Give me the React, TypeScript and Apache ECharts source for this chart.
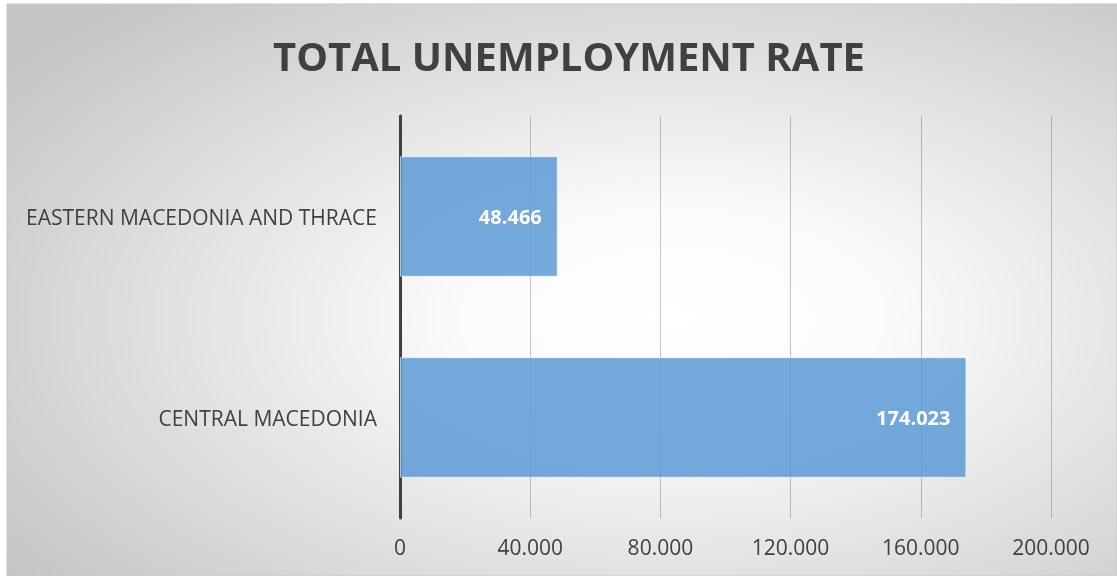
import React, { useEffect, useRef } from "react";
import * as echarts from "echarts";

const categories = ["EASTERN MACEDONIA AND THRACE", "CENTRAL MACEDONIA"];
const values = [48466, 174023];
const titleText = "TOTAL UNEMPLOYMENT RATE";

const fmt = (v: number) =>
  String(Math.round(v)).replace(/\B(?=(\d{3})+(?!\d))/g, ".");

export default function App() {
  const ref = useRef<HTMLDivElement>(null);
  useEffect(() => {
    if (!ref.current) return;
    const chart = echarts.init(ref.current, undefined, { renderer: "svg" });
    chart.setOption({
      animation: false,
      graphic: [
        {
          type: "rect",
          z: -10,
          silent: true,
          shape: { x: 7, y: 4, width: 1110, height: 572 },
          style: {
            fill: new echarts.graphic.RadialGradient(0.6, 0.55, 0.75, [
              { offset: 0, color: "#ffffff" },
              { offset: 0.25, color: "#fbfbfb" },
              { offset: 1, color: "#c4c4c4" },
            ]),
            stroke: "#c8c8c8",
            lineWidth: 1,
          },
        },
      ],
      title: {
        text: titleText,
        left: 564,
        textAlign: "center",
        top: 30,
        textStyle: {
          fontFamily: "Open Sans",
          fontSize: 40,
          fontWeight: "bold",
          color: "#404040",
        },
      },
      grid: { left: 400, right: 66, top: 116, bottom: 58, containLabel: false },
      xAxis: {
        type: "value",
        min: 0,
        max: 200000,
        interval: 40000,
        axisLine: { show: false },
        axisTick: { show: false },
        splitLine: { show: true, lineStyle: { color: "rgba(0,0,0,0.22)", width: 1 } },
        axisLabel: {
          formatter: (v: number) => fmt(v),
          color: "#404040",
          fontFamily: "Open Sans",
          fontSize: 21,
          margin: 18,
        },
      },
      yAxis: {
        type: "category",
        data: categories,
        inverse: true,
        axisTick: { show: false },
        axisLine: { show: true, lineStyle: { color: "#404040", width: 3 } },
        axisLabel: {
          color: "#404040",
          fontFamily: "Open Sans",
          fontSize: 21,
          margin: 23,
        },
      },
      series: [
        {
          type: "bar",
          data: values,
          barCategoryGap: "40%",
          z: 1,
          itemStyle: {
            color: "rgba(91,155,213,0.85)",
            borderColor: "rgba(255,255,255,0.6)",
            borderWidth: 1,
          },
          label: {
            show: true,
            position: "insideRight",
            distance: 16,
            formatter: (p: any) => fmt(p.value),
            color: "#ffffff",
            fontFamily: "Open Sans",
            fontWeight: "bold",
            fontSize: 20,
          },
        },
      ],
    });
    return () => chart.dispose();
  }, []);
  return (
    <div
      ref={ref}
      style={{ position: "fixed", left: 0, top: 0, width: 1117, height: 576 }}
    />
  );
}
